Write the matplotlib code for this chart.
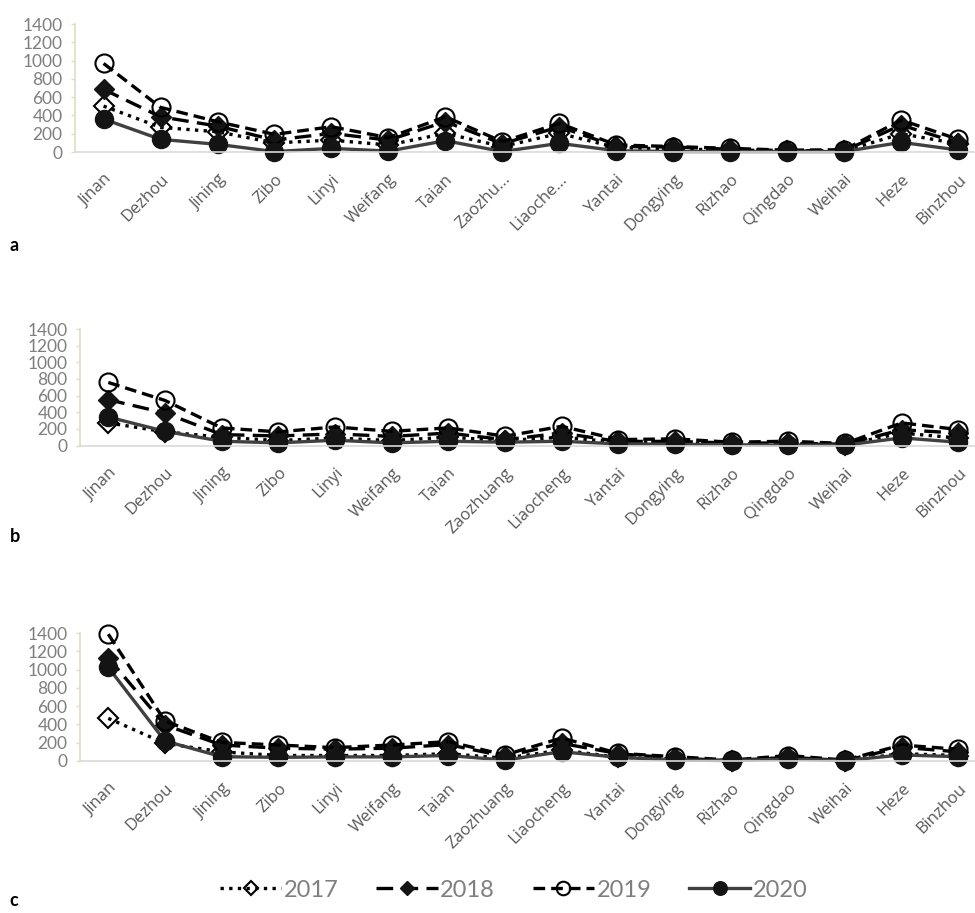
import numpy as np
import matplotlib.pyplot as plt

plt.rcParams['font.family'] = ['Lato', 'DejaVu Sans']

cities = ['Jinan', 'Dezhou', 'Jining', 'Zibo', 'Linyi', 'Weifang', 'Taian', 'Zaozhuang',
          'Liaocheng', 'Yantai', 'Dongying', 'Rizhao', 'Qingdao', 'Weihai', 'Heze', 'Binzhou']
cities_a = ['Jinan', 'Dezhou', 'Jining', 'Zibo', 'Linyi', 'Weifang', 'Taian', 'Zaozhu...',
            'Liaoche...', 'Yantai', 'Dongying', 'Rizhao', 'Qingdao', 'Weihai', 'Heze', 'Binzhou']
years = ['2017', '2018', '2019', '2020']

# panel a
a_2017 = [503, 270, 222, 100, 130, 77, 204, 60, 204, 50, 30, 25, 10, 10, 200, 90]
a_2018 = [686, 386, 284, 131, 204, 130, 332, 90, 277, 60, 55, 30, 15, 15, 295, 100]
a_2019 = [970, 489, 332, 193, 277, 157, 386, 113, 314, 77, 60, 40, 20, 25, 350, 139]
a_2020 = [361, 139, 84, 5, 40, 10, 124, 5, 95, 14, 5, 5, 5, 5, 106, 22]

# panel b
b_2017 = [272, 165, 100, 60, 90, 60, 100, 60, 100, 40, 30, 20, 20, 10, 150, 90]
b_2018 = [551, 391, 132, 115, 140, 110, 150, 70, 150, 50, 50, 30, 30, 15, 190, 150]
b_2019 = [758, 542, 212, 164, 224, 171, 212, 112, 231, 72, 80, 40, 52, 25, 272, 192]
b_2020 = [343, 171, 52, 32, 64, 32, 52, 40, 52, 20, 15, 10, 5, 5, 92, 40]

# panel c
c_2017 = [467, 193, 100, 60, 60, 60, 80, 30, 120, 40, 20, 5, 30, 5, 80, 60]
c_2018 = [1130, 394, 175, 140, 130, 140, 180, 50, 193, 80, 30, 5, 40, 5, 150, 100]
c_2019 = [1389, 438, 204, 175, 146, 175, 212, 66, 252, 84, 47, 10, 60, 10, 175, 128]
c_2020 = [1025, 219, 47, 40, 45, 45, 60, 10, 102, 40, 10, 5, 20, 5, 66, 47]

styles = [
    dict(color='black', linestyle=(0, (1, 1.6)), marker='D', markersize=10,
         markerfacecolor='none', markeredgecolor='black', markeredgewidth=1.5),
    dict(color='black', linestyle=(0, (5, 2.5)), marker='D', markersize=10,
         markerfacecolor='#141414', markeredgecolor='#141414'),
    dict(color='black', linestyle=(0, (3.5, 1.8)), marker='o', markersize=13,
         markerfacecolor='none', markeredgecolor='black', markeredgewidth=1.5),
    dict(color='#404040', linestyle='-', marker='o', markersize=13,
         markerfacecolor='#141414', markeredgecolor='#141414'),
]

fig = plt.figure(figsize=(9.75, 9.13), dpi=100)

panels = [
    ([0.077, 0.8335, 0.935, 0.140], [a_2017, a_2018, a_2019, a_2020], cities_a, 'a', 0.722),
    ([0.082, 0.512, 0.930, 0.1276], [b_2017, b_2018, b_2019, b_2020], cities, 'b', 0.403),
    ([0.082, 0.1665, 0.930, 0.140], [c_2017, c_2018, c_2019, c_2020], cities, 'c', 0.004),
]

x = np.arange(len(cities))
handles = []
for pos, series, labels, letter, ly in panels:
    ax = fig.add_axes(pos)
    handles = []
    for vals, st, yr in zip(series, styles, years):
        h, = ax.plot(x, vals, linewidth=2.4, label=yr, **st)
        handles.append(h)
    ax.set_ylim(0, 1400)
    ax.set_yticks(range(0, 1401, 200))
    ax.set_xlim(-0.5, 15.5)
    ax.set_xticks(x)
    ax.set_xticklabels(labels, rotation=45, ha='right', rotation_mode='anchor',
                       family=['Open Sans', 'DejaVu Sans'])
    ax.tick_params(axis='x', length=0, labelsize=12, labelcolor='#595959', pad=14)
    ax.tick_params(axis='y', length=3, width=1, color='#e0dcc4', labelsize=12.5,
                   labelcolor='#7f7f7f', pad=6)
    ax.spines['top'].set_visible(False)
    ax.spines['right'].set_visible(False)
    ax.spines['left'].set_color('#e0dcc4')
    ax.spines['bottom'].set_color('#d9d9d9')
    ax.spines['left'].set_linewidth(1.2)
    ax.spines['bottom'].set_linewidth(1.2)
    for h in ax.lines:
        h.set_clip_on(False)
    fig.text(0.01, ly, letter, fontsize=13, fontweight='bold', color='black',
             ha='left', va='bottom')

fig.legend(handles=handles, labels=years, loc='center', bbox_to_anchor=(0.527, 0.025),
           ncol=4, frameon=False, fontsize=17, handlelength=2.6, columnspacing=1.6,
           handletextpad=0.1, markerscale=0.75, labelcolor='#7f7f7f')

fig.savefig('out.png', dpi=100)
